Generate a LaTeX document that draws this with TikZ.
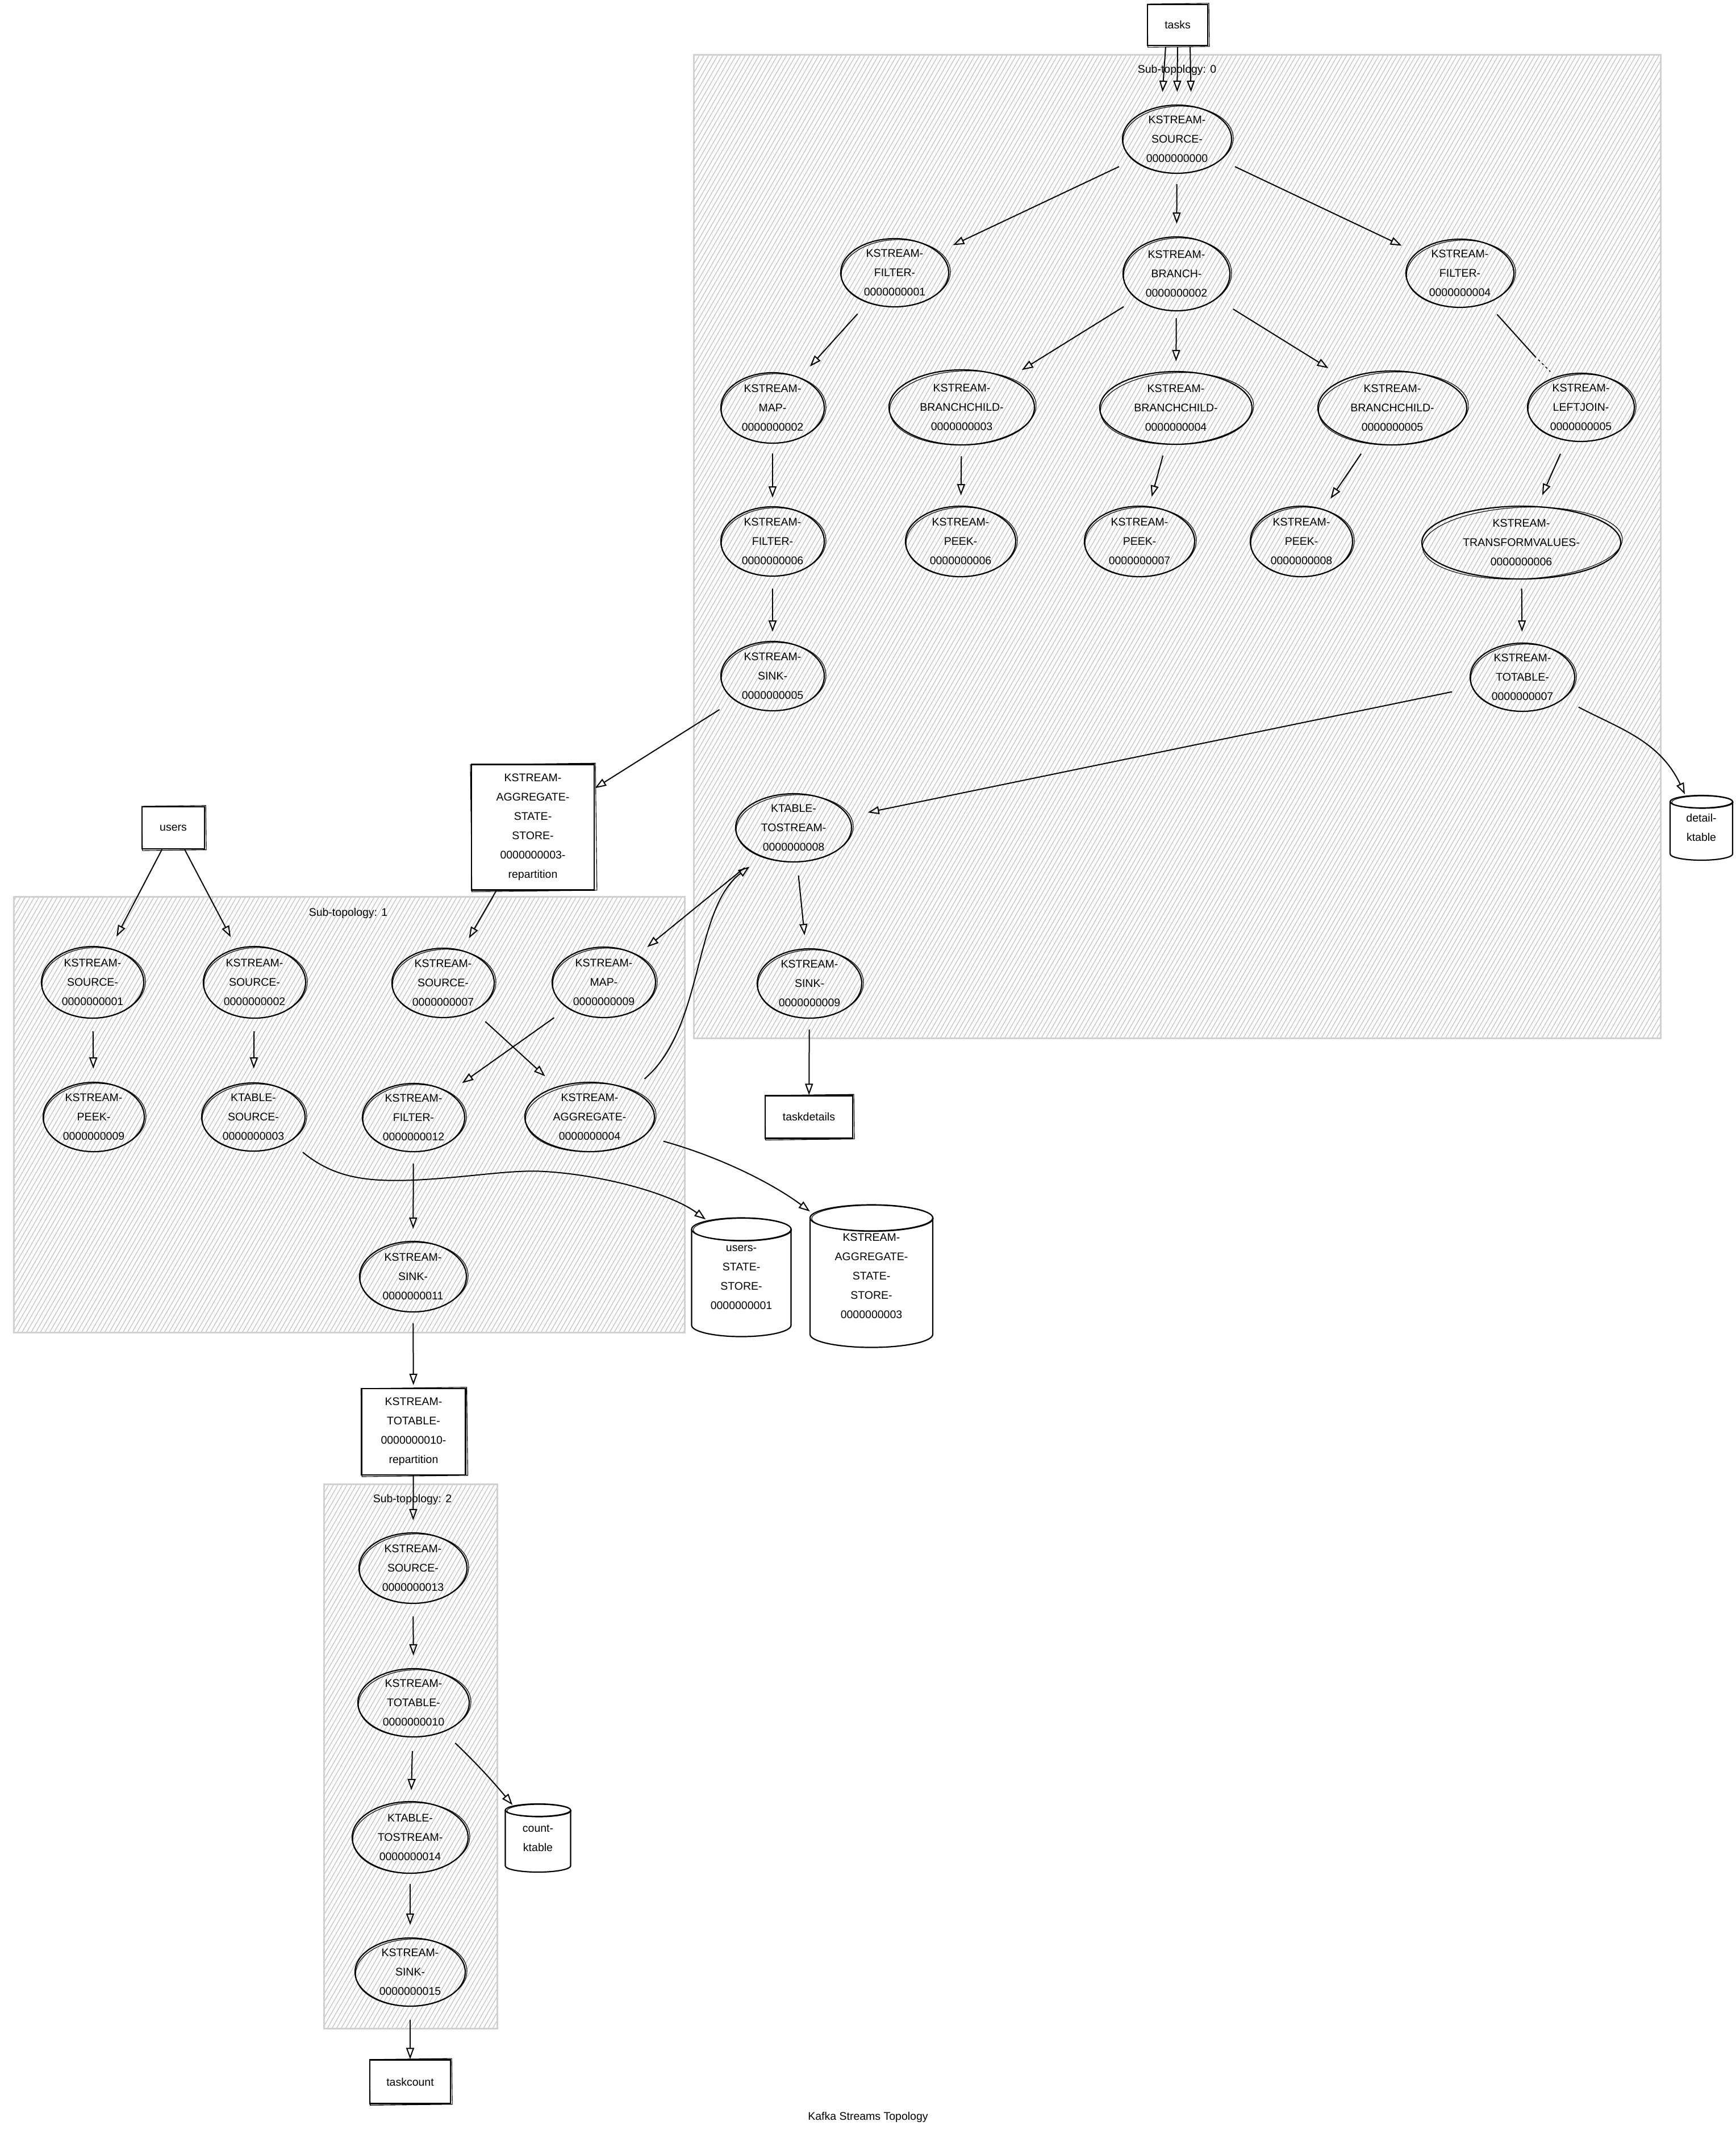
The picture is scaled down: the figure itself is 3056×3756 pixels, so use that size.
\documentclass[tikz,border=0pt]{standalone}
\usepackage{fontspec}
\setmainfont{Liberation Sans}
\usetikzlibrary{shapes.geometric,arrows.meta,patterns.meta}

\tikzset{
  ell/.style={ellipse, draw, line width=2.2pt, inner sep=0pt, align=center},
  boxn/.style={rectangle, draw, line width=2.4pt, inner sep=0pt, align=center, fill=white},
  conn/.style={line width=2pt, -{Triangle[open, length=20pt, width=14pt]}, shorten <=18pt, shorten >=22pt},
  sketch/.style={line width=1.1pt},
  topo/.style={pattern={Lines[angle=60,distance=7pt,line width=0.9pt]}, pattern color=black!30},
  topoborder/.style={draw=black!18, line width=3pt},
  lbl/.style={inner sep=0pt},
}

\newcommand\ellnode[6]{%
  \node[ell, minimum width=#4pt, minimum height=#5pt] (#1) at (#2,-#3) {#6};
  \draw[sketch, rotate around={2.5:(#2,-#3)}] (#2+2,-#3-1) ellipse [x radius={#4/2+1}, y radius={#5/2-1}];
}
\newcommand\boxnode[6]{%
  \node[boxn, minimum width=#4pt, minimum height=#5pt] (#1) at (#2,-#3) {#6};
  \draw[sketch, rotate around={0.7:(#2,-#3)}] ([shift={(2pt,-2pt)}]#1.south west) rectangle ([shift={(1pt,1pt)}]#1.north east);
}
\newcommand\cylnode[7]{%
  \fill[white] (#2-#4/2,-#3+#5/2-#6) -- (#2-#4/2,-#3-#5/2+#6) arc[start angle=180,end angle=360,x radius=#4/2,y radius=#6] -- (#2+#4/2,-#3+#5/2-#6) arc[start angle=0,end angle=180,x radius=#4/2,y radius=#6] -- cycle;
  \draw[line width=2.2pt] (#2-#4/2,-#3+#5/2-#6) -- (#2-#4/2,-#3-#5/2+#6) arc[start angle=180,end angle=360,x radius=#4/2,y radius=#6] -- (#2+#4/2,-#3+#5/2-#6);
  \draw[line width=2.2pt] (#2,-#3+#5/2-#6) ellipse [x radius=#4/2, y radius=#6];
  \draw[sketch] (#2+2,-#3+#5/2-#6-1) ellipse [x radius=#4/2-1, y radius=#6];
  \node[inner sep=0pt, align=center, minimum width=#4pt, minimum height=#5pt] (#1) at (#2,-#3) {#7};
}

\begin{document}
\begin{tikzpicture}[x=1pt, y=1pt, font=\fontsize{19.5pt}{34pt}\selectfont]
\useasboundingbox (0,0) rectangle (3056,-3756);
\fill[white] (0,0) rectangle (3056,-3756);

% sub-topology boxes
\fill[topo] (1221,-96) rectangle (2923,-1827);
\draw[topoborder] (1221,-96) rectangle (2923,-1827);
\fill[topo] (24,-1578) rectangle (1205,-2345);
\draw[topoborder] (24,-1578) rectangle (1205,-2345);
\fill[topo] (570,-2612) rectangle (875,-3570);
\draw[topoborder] (570,-2612) rectangle (875,-3570);

\node[lbl] (t0) at (2072,-123) {Sub-topology: 0};
\node[lbl] (t1) at (613,-1607) {Sub-topology: 1};
\node[lbl] (t2) at (726,-2639) {Sub-topology: 2};
\node[lbl] (title) at (1528,-3726) {Kafka Streams Topology};

% sub-topology 0
\boxnode{tasks}{2073}{44}{106}{72}{tasks}
\ellnode{src0}{2072}{245}{192}{120}{KSTREAM-\\SOURCE-\\0000000000}
\ellnode{fil1}{1575}{480}{190}{120}{KSTREAM-\\FILTER-\\0000000001}
\ellnode{br2}{2071}{482}{188}{130}{KSTREAM-\\BRANCH-\\0000000002}
\ellnode{fil4}{2570}{481}{190}{120}{KSTREAM-\\FILTER-\\0000000004}
\ellnode{map2}{1360}{718}{182}{124}{KSTREAM-\\MAP-\\0000000002}
\ellnode{bc3}{1693}{717}{256}{132}{KSTREAM-\\BRANCHCHILD-\\0000000003}
\ellnode{bc4}{2070}{718}{268}{128}{KSTREAM-\\BRANCHCHILD-\\0000000004}
\ellnode{bc5}{2451}{718}{262}{130}{KSTREAM-\\BRANCHCHILD-\\0000000005}
\ellnode{lj5}{2783}{717}{188}{120}{KSTREAM-\\LEFTJOIN-\\0000000005}
\ellnode{fil6}{1360}{953}{182}{122}{KSTREAM-\\FILTER-\\0000000006}
\ellnode{pk6}{1691}{953}{194}{124}{KSTREAM-\\PEEK-\\0000000006}
\ellnode{pk7}{2006}{953}{194}{124}{KSTREAM-\\PEEK-\\0000000007}
\ellnode{pk8}{2291}{953}{180}{124}{KSTREAM-\\PEEK-\\0000000008}
\ellnode{tv6}{2678}{955}{350}{128}{KSTREAM-\\TRANSFORMVALUES-\\0000000006}
\ellnode{snk5}{1360}{1190}{182}{122}{KSTREAM-\\SINK-\\0000000005}
\ellnode{tt7}{2680}{1192}{184}{120}{KSTREAM-\\TOTABLE-\\0000000007}
\ellnode{ts8}{1397}{1457}{204}{120}{KTABLE-\\TOSTREAM-\\0000000008}
\ellnode{snk9}{1425}{1731}{184}{122}{KSTREAM-\\SINK-\\0000000009}
\cylnode{detail}{2995}{1457}{110}{114}{11}{detail-\\ktable}
\boxnode{taskdetails}{1424}{1966}{154}{75}{taskdetails}
\boxnode{rep3}{938}{1456}{216}{221}{KSTREAM-\\AGGREGATE-\\STATE-\\STORE-\\0000000003-\\repartition}

% sub-topology 1
\boxnode{users}{305}{1457}{110}{74}{users}
\ellnode{s1}{163}{1729}{180}{126}{KSTREAM-\\SOURCE-\\0000000001}
\ellnode{s2}{448}{1729}{180}{126}{KSTREAM-\\SOURCE-\\0000000002}
\ellnode{s7}{780}{1730}{180}{122}{KSTREAM-\\SOURCE-\\0000000007}
\ellnode{map9}{1063}{1729}{182}{124}{KSTREAM-\\MAP-\\0000000009}
\ellnode{pk9}{165}{1966}{178}{122}{KSTREAM-\\PEEK-\\0000000009}
\ellnode{kts3}{446}{1966}{182}{120}{KTABLE-\\SOURCE-\\0000000003}
\ellnode{f12}{728}{1967}{180}{120}{KSTREAM-\\FILTER-\\0000000012}
\ellnode{agg4}{1038}{1966}{228}{122}{KSTREAM-\\AGGREGATE-\\0000000004}
\ellnode{snk11}{727}{2247}{188}{124}{KSTREAM-\\SINK-\\0000000011}
\cylnode{ustore}{1305}{2248}{175}{209}{20}{users-\\STATE-\\STORE-\\0000000001}
\cylnode{astore}{1534}{2246}{216}{251}{23}{KSTREAM-\\AGGREGATE-\\STATE-\\STORE-\\0000000003}
\boxnode{rep10}{728}{2520}{183}{152}{KSTREAM-\\TOTABLE-\\0000000010-\\repartition}

% sub-topology 2
\ellnode{s13}{727}{2760}{190}{124}{KSTREAM-\\SOURCE-\\0000000013}
\ellnode{tt10}{728}{2997}{196}{120}{KSTREAM-\\TOTABLE-\\0000000010}
\ellnode{ts14}{722}{3234}{204}{126}{KTABLE-\\TOSTREAM-\\0000000014}
\ellnode{snk15}{722}{3471}{194}{120}{KSTREAM-\\SINK-\\0000000015}
\cylnode{count}{947}{3235}{115}{120}{11}{count-\\ktable}
\boxnode{taskcount}{722}{3664}{142}{77}{taskcount}

% connectors sub-topology 0
\draw[conn, shorten <=1pt] ([xshift=-21pt]tasks.south) -- ([xshift=-27pt]src0.north);
\draw[conn, shorten <=1pt] (tasks.south) -- (src0.north);
\draw[conn, shorten <=1pt] ([xshift=22pt]tasks.south) -- ([xshift=25pt]src0.north);
\draw[conn, shorten <=27pt, shorten >=28pt] (src0) -- (fil1);
\draw[conn] (src0) -- (br2);
\draw[conn, shorten <=27pt, shorten >=28pt] (src0) -- (fil4);
\draw[conn, shorten <=26pt, shorten >=26pt] (fil1) -- (map2);
\draw[conn, shorten <=26pt, shorten >=27pt] (br2) -- (bc3);
\draw[conn, shorten <=12pt, shorten >=17pt] (br2) -- (bc4);
\draw[conn, shorten <=34pt, shorten >=35pt] (br2) -- (bc5);
\draw[line width=2pt, shorten <=26pt, shorten >=47pt] (fil4) -- (lj5);
\coordinate (ljA) at (2708,-633);
\coordinate (ljB) at (2729,-654);
\draw[line width=1.5pt, dash pattern=on 4pt off 5pt] (ljA) -- (ljB);
\draw[conn, shorten <=17pt, shorten >=15pt] (map2) -- (fil6);
\draw[conn, shorten <=21pt, shorten >=16pt] (fil6) -- (snk5);
\draw[conn, shorten <=19pt, shorten >=18pt] (bc3) -- (pk6);
\draw[conn, shorten <=20pt, shorten >=17pt] (bc4) -- (pk7);
\draw[conn, shorten <=22pt, shorten >=22pt] (bc5) -- (pk8);
\draw[conn, shorten <=25pt, shorten >=21pt] (lj5) -- (tv6);
\draw[conn, shorten <=16pt, shorten >=19pt] (tv6) -- (tt7);
\draw[conn, shorten <=31pt, shorten >=0pt] (snk5) -- (rep3);
\draw[conn, shorten <=36pt, shorten >=34pt] (tt7) -- (ts8);
\draw[conn, shorten <=30pt, shorten >=2pt] (tt7) to[out=-28, in=115] ([xshift=27pt]detail.north west);
\draw[conn, shorten <=23pt, shorten >=23pt] (ts8) -- (snk9);
\draw[conn, shorten <=33pt, shorten >=22pt] (ts8) -- (map9);
\draw[conn, shorten <=19pt, shorten >=0pt] (snk9) -- (taskdetails);

% connectors sub-topology 1
\draw[conn, shorten <=0pt, shorten >=23pt] (users) -- (s1);
\draw[conn, shorten <=0pt, shorten >=22pt] (users) -- (s2);
\draw[conn, shorten <=0pt, shorten >=24pt] (rep3) -- (s7);
\draw[conn, shorten <=22pt, shorten >=23pt] (s1) -- (pk9);
\draw[conn, shorten <=22pt, shorten >=24pt] (s2) -- (kts3);
\draw[conn, shorten <=27pt, shorten >=27pt] (s7) -- (agg4);
\draw[conn, shorten <=29pt, shorten >=28pt] (map9) -- (f12);
\draw[conn, shorten <=30pt, shorten >=28pt] (agg4.33) .. controls (1240,-1810) and (1220,-1600) .. (ts8.-137);
\draw[conn, shorten <=29pt, shorten >=0pt] (kts3.-34) .. controls (590,-2075) and (650,-2080) .. (730,-2077) .. controls (830,-2072) and (900,-2058) .. (960,-2062) .. controls (1060,-2068) and (1180,-2100) .. ([xshift=25pt,yshift=-3pt]ustore.north west);
\draw[conn, shorten <=34pt, shorten >=0pt] (agg4.-19) .. controls (1280,-2040) and (1370,-2090) .. ([yshift=-12pt]astore.north west);
\draw[conn, shorten <=20pt, shorten >=21pt] (f12) -- (snk11);
\draw[conn, shorten <=19pt, shorten >=5pt] (snk11) -- (rep10);

% connectors sub-topology 2
\draw[conn, shorten <=0pt, shorten >=21pt] (rep10) -- (s13);
\draw[conn, shorten <=22pt, shorten >=22pt] (s13) -- (tt10);
\draw[conn, shorten <=24pt, shorten >=19pt] (tt10) -- (ts14);
\draw[conn, shorten <=28pt, shorten >=0pt] (tt10) to[out=-44, in=130] ([xshift=13pt,yshift=-2pt]count.north west);
\draw[conn, shorten <=18pt, shorten >=22pt] (ts14) -- (snk15);
\draw[conn, shorten <=23pt, shorten >=0pt] (snk15) -- (taskcount);
\end{tikzpicture}
\end{document}
